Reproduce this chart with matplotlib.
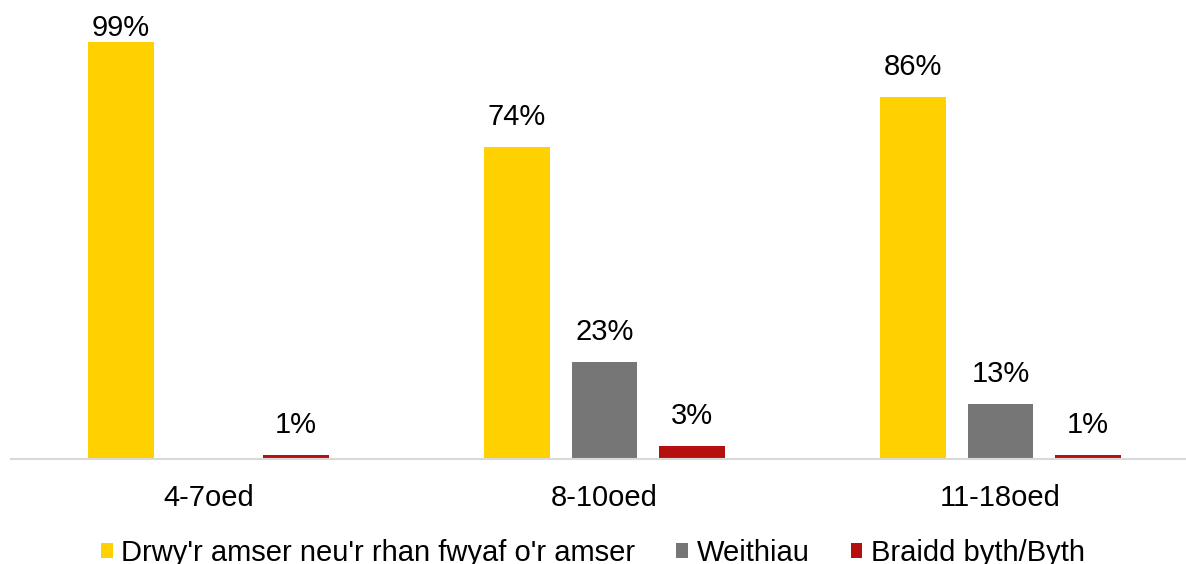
import matplotlib
matplotlib.use("Agg")
import matplotlib.pyplot as plt
import numpy as np

plt.rcParams['font.family'] = ['Liberation Sans', 'DejaVu Sans']

categories = ["4-7oed", "8-10oed", "11-18oed"]
series = ["Drwy'r amser neu'r rhan fwyaf o'r amser", "Weithiau", "Braidd byth/Byth"]
often = [99, 74, 86]
sometimes = [0, 23, 13]
never = [1, 3, 1]
colors = ["#FFD100", "#767676", "#B41010"]

fig = plt.figure(figsize=(11.86, 5.64), dpi=100)
W, H = 1186, 564
ax = fig.add_axes([10.5 / W, 105 / H, 1188 / W, 459 / H])
ymax = 109
ax.set_xlim(-0.5, 2.5)
ax.set_ylim(0, ymax)
ppu = 459 / ymax  # pixels per percent

x = np.arange(len(categories))
bw, off = 0.165, 0.221
for i, (vals, col, name) in enumerate(zip([often, sometimes, never], colors, series)):
    xs = x + (i - 1) * off
    ax.bar(xs, vals, width=bw, color=col, label=name, zorder=2)
    for xi, v in zip(xs, vals):
        if v <= 0:
            continue
        ty = min(v + 30 / ppu, ymax - 28 / ppu)
        ax.text(xi, ty, f"{v}%", ha="center", va="center", fontsize=21, color="#000000")

for s in ["top", "right", "left"]:
    ax.spines[s].set_visible(False)
ax.spines["bottom"].set_color("#D9D9D9")
ax.spines["bottom"].set_linewidth(1.5)
ax.set_yticks([])
ax.set_xticks(x)
ax.set_xticklabels(categories, fontsize=21)
ax.tick_params(axis="x", length=0, pad=18)

leg = ax.legend(loc="center", bbox_to_anchor=((593 - 10.5) / 1188, -94 / 459),
                ncol=3, frameon=False, fontsize=21, handlelength=0.4, handleheight=0.4,
                handletextpad=0.3, columnspacing=1.4, borderaxespad=0)

fig.savefig("out.png", dpi=100, facecolor="white")
